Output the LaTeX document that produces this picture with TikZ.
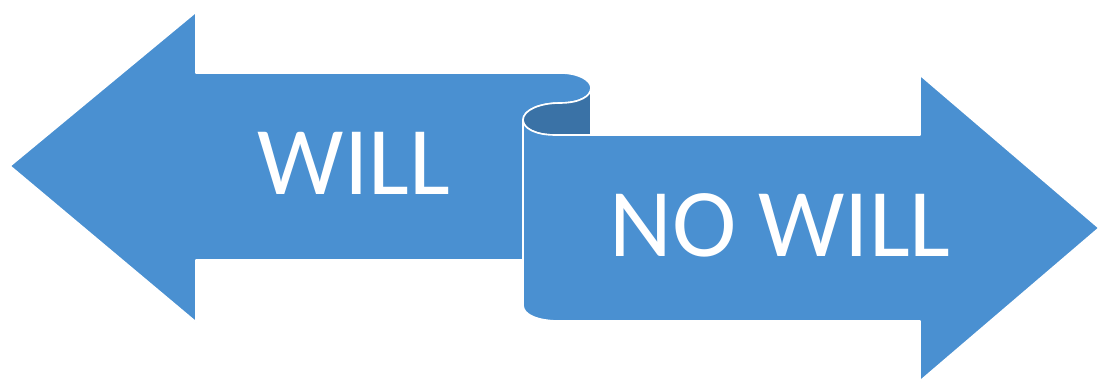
\documentclass[tikz,border=0pt]{standalone}
\usepackage{fontspec}
\setmainfont{Carlito}
\usepackage{tikz}
\definecolor{arrowblue}{RGB}{74,144,209}
\definecolor{curldark}{RGB}{58,114,166}
\tikzset{
  arrow_body/.style = {fill=arrowblue, draw=white, line width=1.6pt,
    line join=round},% fleche principale
  curl_back/.style = {fill=curldark, draw=white, line width=1.6pt,
    line join=round},% envers du ruban
  arrow_label/.style = {white, inner sep=0pt,
    font=\fontsize{97}{107}\selectfont}% texte des fleches
}
\begin{document}
\begin{tikzpicture}[x=1pt, y=-1pt]
    \useasboundingbox (0,0) rectangle (1100,383);
    % fleche gauche
    \draw [arrow_body] (10,166) -- (196,12) -- (196,73) -- (560,73)
      .. controls (578,73) and (591,80) .. (591,88)
      .. controls (591,96) and (580,103) .. (560,103)
      .. controls (540,103) and (523,110) .. (523,120)
      -- (523,260) -- (196,260) -- (196,322) -- cycle;
    % envers du ruban
    \draw [curl_back] (523,120)
      .. controls (523,110) and (540,103) .. (560,103)
      .. controls (580,103) and (591,96) .. (591,88)
      -- (591,135) -- (555,135)
      .. controls (535,135) and (523,128) .. (523,120) -- cycle;
    % fleche droite
    \draw [arrow_body] (523,120)
      .. controls (523,128) and (535,135) .. (555,135)
      -- (920,135) -- (920,75) -- (1099,228) -- (920,381) -- (920,321)
      -- (560,321) .. controls (538,321) and (523,315) .. (523,305) -- cycle;
    \node [arrow_label] (will_label) at (354,163) {WILL};
    \node [arrow_label] (nowill_label) at (780,225) {NO WILL};
  \end{tikzpicture}
\end{document}
